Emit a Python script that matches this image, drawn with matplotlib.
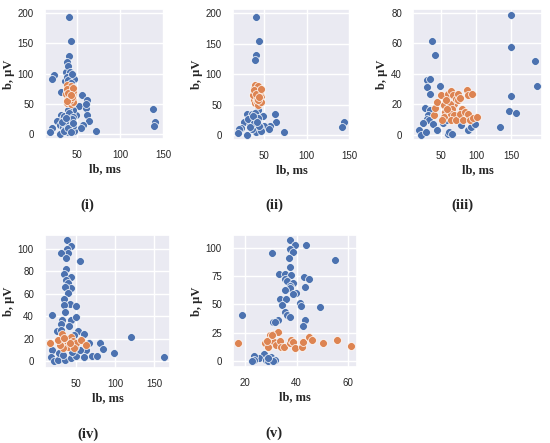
import matplotlib
matplotlib.use("Agg")
import matplotlib.pyplot as plt
import seaborn as sns

sns.set_theme(style="darkgrid")
plt.rcParams['font.family'] = ['Liberation Sans Narrow', 'Liberation Sans', 'DejaVu Sans']

BLUE = "#4C72B0"
ORANGE = "#DD8452"

# ---------------- panel (i) ----------------
i_blue_x = [41, 43, 41, 39, 37, 40, 23.7, 21, 42, 47, 31.6, 56, 62, 53, 60, 60.5, 62, 63.5, 57, 55,
            48.5, 45, 39.5, 31, 32, 26.7, 30.5, 21, 19, 30, 40, 47, 38, 42.5, 72.5, 138, 141, 139.5,
            36, 38, 40, 43, 44, 35, 37, 39, 41, 45, 34, 36, 38, 42, 44, 46, 33, 35, 37, 40, 43, 46]
i_blue_y = [193, 154, 129, 120, 103, 112, 98, 91, 103, 91, 69, 65, 57, 46, 43, 50, 32, 21, 15, 10,
            32, 40, 40, 32, 24, 21, 15, 10, 4, 0, 3, 6, 13, 18, 5.5, 42, 20, 14,
            88, 95, 90, 85, 100, 30, 22, 27, 35, 28, 12, 8, 18, 12, 25, 14, 20, 6, 26, 10, 4, 19]
i_orange_x = [38, 39, 40, 41, 42, 43, 44, 45, 46, 38, 39, 40, 41, 42, 43, 44, 45, 46, 37, 39,
              41, 43, 45, 38, 40, 42, 44, 46, 39, 43]
i_orange_y = [78, 72, 80, 66, 75, 60, 70, 56, 64, 58, 52, 62, 54, 70, 50, 76, 68, 54, 66, 82,
              60, 80, 72, 74, 68, 57, 62, 76, 55, 65]

# ---------------- panel (ii) ----------------
ii_blue_x = [40, 43.4, 40, 38.7, 42.6, 29, 35.5, 39, 48.4, 62, 64, 57, 50, 55, 45, 26, 22, 20, 19,
             30, 40.6, 46.5, 73, 144, 142, 33, 37, 42, 35, 31, 38, 44, 36, 41, 33]
ii_blue_y = [194, 155, 131, 123, 42, 34, 34, 36, 32, 34, 22, 15, 15, 10, 13, 21, 11, 10, 4,
             0.5, 4.4, 7, 5.5, 21, 14, 17, 24, 28, 10, 26, 20, 15, 31, 22, 13]
ii_orange_x = [38, 39, 40, 41, 42, 43, 44, 45, 46, 38, 39, 40, 41, 42, 43, 44, 45, 46, 37, 39,
               41, 43, 45, 38, 40, 42, 44, 46]
ii_orange_y = [78, 72, 80, 66, 75, 60, 70, 56, 64, 58, 52, 62, 54, 70, 50, 76, 68, 54, 66, 82,
               60, 80, 72, 74, 68, 57, 62, 76]

# ---------------- panel (iii) ----------------
iii_blue_x = [150, 149.5, 184, 188, 150.5, 146.7, 156.7, 134.7, 36.6, 41.4, 29.4, 34.2, 29.4, 34.7,
              48, 27, 35, 31.8, 29.4, 33, 24.5, 39, 19, 22, 29, 45, 53, 58, 59.6, 61.5, 66,
              78.7, 89, 93, 98]
iii_blue_y = [78.9, 58, 48.5, 32, 25.6, 15.4, 14.3, 5, 61.3, 52.2, 36, 37, 31.3, 26.7,
              32, 17.6, 16.5, 12.8, 10.6, 9.5, 8, 7.3, 3.5, 0, 2.2, 3.5, 8, 9.5, 0.7, 2.2, 0.7,
              6.6, 3.5, 5, 7.3]
iii_orange_x = [40, 42, 45, 50, 54.8, 56, 54, 52, 60.5, 64, 67.7, 69, 71, 63, 66, 64, 69, 64, 71.5,
                75, 74, 77, 79.7, 77, 82, 84.5, 88, 87, 89, 95, 92, 96.4, 102, 58, 56.7]
iii_orange_y = [13.4, 17.8, 21.6, 26, 19.4, 15, 11.7, 9.5, 26.7, 28.9, 26, 20.5, 23.6, 20.5, 17.2,
                13.9, 12.8, 10, 9.5, 26.7, 22.7, 24.5, 17.2, 13.9, 9.5, 15, 13.9, 29.8, 26, 27,
                9.5, 11.2, 12, 17, 22.7]

# ---------------- panel (iv) ----------------
iv_blue_x = [38, 43.6, 38, 39, 30, 55, 37, 36.8, 34, 43, 37, 39, 43.6, 36, 39, 34.6, 41.5, 50,
             35, 36, 18.8, 43.6, 50, 32, 30, 41, 53, 60, 47, 25, 67, 63, 51, 121, 80, 85, 98,
             70, 77, 163, 18.8, 17.5, 22, 26.5, 36, 43, 50, 60, 28.6, 55, 33, 45, 48, 30]
iv_blue_y = [108, 102.7, 100, 96, 96, 89.6, 91.7, 82, 77.5, 75.4, 72, 69.5, 65, 66, 60.7, 55.6,
             50.9, 48.8, 50, 43.8, 40.8, 37, 39, 37, 33, 31, 26.6, 24.3, 23.5, 26.5, 16.3, 10,
             9, 22, 16.3, 11.2, 7.4, 4.4, 4.4, 3.8, 10, 3.8, 0.6, 1.5, 1.5, 3, 4.4, 3.5, 7.4,
             10, 6, 8, 13, 28]
iv_orange_x = [16.7, 31.6, 31, 36, 38, 43.6, 45.5, 40, 50, 56, 62.8, 33, 29, 27, 47, 42, 35]
iv_orange_y = [16.3, 24.3, 17.8, 19.2, 14.8, 22, 17.8, 12.4, 16.3, 19.2, 14.2, 11.8, 14.8,
               19.2, 11.8, 16, 21]

# ---------------- panel (v) ----------------
v_blue_x = [37.6, 39.3, 43.5, 37.6, 38.5, 30.4, 55, 37, 37.3, 33.3, 35.6, 38, 42.8, 44.8, 35.4,
            36.3, 38.5, 37.3, 43.3, 37.6, 35.6, 39.6, 38.6, 33.5, 35.8, 41.5, 41.9, 49, 34.4,
            35.6, 36.3, 37.3, 18.7, 43.4, 42.4, 32.8, 30.7, 31.7, 27.4, 25.5, 23.3, 23.3, 22.6,
            28, 28.7, 30, 31.5, 30.8, 29]
v_blue_y = [107, 102, 102, 99, 96, 95.5, 89, 91, 82.7, 77, 77, 76, 74.4, 72, 72, 70.5, 69, 66,
            65, 64, 63, 60, 59.5, 54.5, 54.5, 51, 48.5, 48, 49.4, 43.5, 41, 39, 40.5, 36.6, 31,
            36, 34.5, 34.5, 6.2, 3, 4.8, 1, 0.3, 1, 0.3, 3.6, 1.2, 0.3, 3]
v_orange_x = [17.1, 30.7, 32.8, 29.8, 27.8, 29.4, 30.2, 31.1, 31.8, 33.4, 34, 29, 35, 37.3, 38,
              38.5, 39.3, 42, 42.4, 45, 46, 50.3, 55.8, 61.4, 28.5, 30.3]
v_orange_y = [15.8, 24, 25.6, 23.2, 15.8, 18.8, 14.9, 17.3, 14.3, 17.9, 12.8, 12.8, 12.8, 15.8,
              18.8, 17.3, 11.3, 12.8, 17.3, 21.7, 18.8, 15.8, 18.8, 13.7, 18, 23.2]

W, H = 550, 443
fig = plt.figure(figsize=(W / 100, H / 100), dpi=100)


def px_axes(l, t, r, b):
    return fig.add_axes([l / W, 1 - b / H, (r - l) / W, (b - t) / H])


panels = [
    ((45, 9, 164, 139), i_blue_x, i_blue_y, i_orange_x, i_orange_y, (13, 151), (-8, 207),
     [50, 100, 150], [0, 50, 100, 150, 200], "(i)", (87, 205)),
    ((233, 9, 350, 140), ii_blue_x, ii_blue_y, ii_orange_x, ii_orange_y, (13, 151), (-8, 207),
     [50, 100, 150], [0, 50, 100, 150, 200], "(ii)", (274, 205)),
    ((413, 9, 542, 140), iii_blue_x, iii_blue_y, iii_orange_x, iii_orange_y, (10, 194.5), (-3.3, 82.6),
     [50, 100, 150], [0, 20, 40, 60, 80], "(iii)", (462, 205)),
    ((45, 235, 170, 368), iv_blue_x, iv_blue_y, iv_orange_x, iv_orange_y, (10, 170.5), (-6, 112.4),
     [50, 100, 150], [0, 20, 40, 60, 80, 100], "(iv)", (88, 434)),
    ((233, 235, 357, 367), v_blue_x, v_blue_y, v_orange_x, v_orange_y, (15.2, 63.6), (-5, 111),
     [20, 40, 60], [0, 25, 50, 75, 100], "(v)", (274, 433)),
]

SERIF = ['Liberation Serif', 'DejaVu Serif']
for box, bx, by, ox, oy, xl, yl, xt, yt, cap, cpos in panels:
    ax = px_axes(*box)
    ax.scatter(bx, by, s=32, color=BLUE, edgecolor="white", linewidth=0.5, zorder=3)
    ax.scatter(ox, oy, s=32, color=ORANGE, edgecolor="white", linewidth=0.5, zorder=4)
    ax.set_xlim(*xl)
    ax.set_ylim(*yl)
    ax.set_xticks(xt)
    ax.set_yticks(yt)
    ax.tick_params(labelsize=7, pad=2)
    ax.set_xlabel("lb, ms", family=SERIF, fontweight='bold', fontsize=9, labelpad=2)
    ax.set_ylabel("b, µV", family=SERIF, fontweight='bold', fontsize=9, labelpad=2)
    fig.text(cpos[0] / W, 1 - cpos[1] / H, cap, ha="center", va="center",
             family=SERIF, fontweight='semibold', fontsize=10.5)

fig.savefig("out.png", dpi=100)
